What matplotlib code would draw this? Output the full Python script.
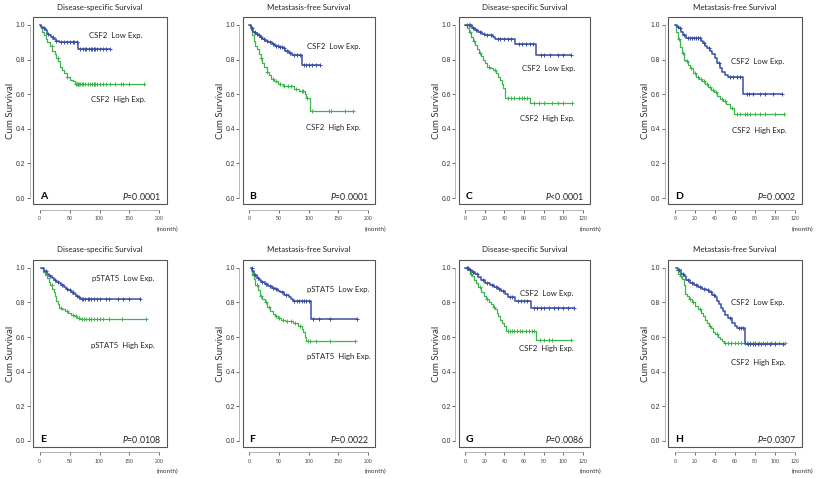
import numpy as np
import matplotlib.pyplot as plt
from matplotlib.patches import Rectangle

plt.rcParams['font.family'] = ['Lato', 'DejaVu Sans']
plt.rcParams['mathtext.fontset'] = 'custom'
plt.rcParams['mathtext.rm'] = 'Lato'
plt.rcParams['mathtext.it'] = 'Lato:italic'

# ---- data: step times / survival after each step / censored times ----
# A  CSF2, disease-specific
A_low_t = [0, 3, 6, 9, 12, 15, 19, 23, 28, 33, 64]
A_low_s = [1.0, 0.99, 0.98, 0.97, 0.95, 0.94, 0.93, 0.92, 0.91, 0.90, 0.86]
A_low_c = [8, 14, 22, 28, 35, 40, 45, 50, 55, 58, 62, 68, 72, 75, 78, 82, 85, 88, 90, 93, 96, 100, 105, 110, 117]
A_high_t = [0, 2, 4, 7, 10, 13, 17, 21, 25, 28, 31, 34, 37, 41, 45, 50, 55, 59]
A_high_s = [1.0, 0.98, 0.96, 0.94, 0.92, 0.90, 0.88, 0.85, 0.83, 0.81, 0.79, 0.76, 0.74, 0.72, 0.70, 0.685, 0.675, 0.66]
A_high_c = [20, 30, 45, 60, 62, 64, 66, 68, 70, 72, 75, 80, 84, 88, 90, 92, 95, 100, 105, 110, 118, 125, 135, 140, 150, 175]

# B  CSF2, metastasis-free
B_low_t = [0, 3, 6, 10, 14, 18, 22, 27, 32, 38, 43, 50, 56, 60, 66, 72, 88]
B_low_s = [1.0, 0.98, 0.96, 0.95, 0.94, 0.93, 0.92, 0.91, 0.90, 0.89, 0.88, 0.875, 0.865, 0.85, 0.84, 0.825, 0.77]
B_low_c = [5, 9, 12, 16, 20, 25, 30, 35, 40, 45, 48, 52, 55, 58, 63, 68, 75, 80, 86, 92, 96, 100, 105, 112, 119]
B_high_t = [0, 2, 4, 7, 10, 13, 16, 19, 22, 25, 29, 33, 37, 42, 49, 56, 62, 75, 84, 93, 96, 102]
B_high_s = [1.0, 0.97, 0.94, 0.91, 0.88, 0.86, 0.83, 0.81, 0.78, 0.76, 0.73, 0.71, 0.69, 0.675, 0.66, 0.65, 0.645, 0.63, 0.62, 0.60, 0.58, 0.505]
B_high_c = [20, 30, 40, 45, 52, 58, 65, 70, 78, 88, 90, 98, 105, 135, 137, 162, 175]

# C  CSF2, disease-specific (cohort 2)
C_low_t = [0, 7, 10, 13, 17, 20, 24, 28, 30, 51, 72]
C_low_s = [1.0, 0.985, 0.97, 0.96, 0.95, 0.945, 0.94, 0.93, 0.917, 0.89, 0.827]
C_low_c = [2, 4, 5, 8, 11, 15, 19, 22, 26, 33, 36, 40, 44, 47, 55, 58, 62, 66, 69, 77, 80, 86, 95, 100, 108]
C_high_t = [0, 2, 4, 6, 8, 10, 12, 14, 16, 18, 20, 22, 25, 28, 31, 34, 36, 38, 39, 41, 66]
C_high_s = [1.0, 0.98, 0.96, 0.93, 0.91, 0.885, 0.86, 0.84, 0.82, 0.80, 0.78, 0.76, 0.75, 0.74, 0.72, 0.70, 0.68, 0.66, 0.635, 0.58, 0.548]
C_high_c = [5, 9, 15, 24, 30, 44, 47, 50, 55, 58, 60, 63, 70, 75, 80, 88, 95, 100, 109]

# D  CSF2, metastasis-free (cohort 2)
D_low_t = [0, 2, 4, 6, 8, 11, 26, 28, 30, 32, 35, 37, 40, 42, 45, 47, 50, 53, 68]
D_low_s = [1.0, 0.99, 0.98, 0.96, 0.94, 0.925, 0.91, 0.895, 0.88, 0.865, 0.85, 0.835, 0.81, 0.78, 0.75, 0.73, 0.71, 0.70, 0.60]
D_low_c = [3, 5, 9, 13, 15, 17, 19, 21, 23, 25, 29, 34, 44, 55, 58, 62, 65, 72, 74, 78, 85, 90, 98, 107]
D_high_t = [0, 1, 3, 5, 7, 9, 11, 13, 15, 18, 21, 24, 27, 30, 33, 36, 39, 42, 45, 48, 51, 55, 59]
D_high_s = [1.0, 0.96, 0.92, 0.875, 0.84, 0.80, 0.79, 0.77, 0.75, 0.72, 0.70, 0.69, 0.675, 0.66, 0.64, 0.625, 0.61, 0.59, 0.575, 0.56, 0.545, 0.52, 0.487]
D_high_c = [4, 8, 12, 16, 20, 23, 26, 29, 32, 35, 38, 41, 47, 50, 57, 62, 65, 70, 72, 75, 80, 85, 90, 100, 109]

# E  pSTAT5, disease-specific
E_low_t = [3, 8, 12, 16, 20, 24, 28, 32, 36, 40, 44, 48, 52, 56, 60, 64, 68]
E_low_s = [1.0, 0.98, 0.965, 0.95, 0.94, 0.93, 0.92, 0.91, 0.90, 0.89, 0.88, 0.87, 0.86, 0.85, 0.84, 0.83, 0.82]
E_low_c = [10, 18, 25, 30, 38, 45, 50, 55, 62, 66, 70, 73, 76, 80, 83, 86, 90, 95, 100, 110, 115, 130, 140, 150, 167]
E_high_t = [3, 6, 9, 12, 15, 18, 21, 24, 26, 28, 30, 33, 37, 42, 47, 52, 58, 63, 68]
E_high_s = [1.0, 0.975, 0.96, 0.94, 0.92, 0.90, 0.88, 0.86, 0.84, 0.81, 0.79, 0.77, 0.76, 0.75, 0.74, 0.73, 0.72, 0.71, 0.705]
E_high_c = [20, 35, 45, 55, 60, 66, 70, 74, 78, 82, 86, 90, 95, 100, 105, 115, 138, 178]

# F  pSTAT5, metastasis-free
F_low_t = [2, 5, 8, 12, 16, 20, 26, 32, 38, 43, 48, 52, 58, 66, 70, 74, 104]
F_low_s = [1.0, 0.98, 0.96, 0.94, 0.93, 0.92, 0.905, 0.895, 0.885, 0.875, 0.865, 0.86, 0.845, 0.83, 0.82, 0.81, 0.705]
F_low_c = [4, 10, 14, 22, 28, 35, 40, 45, 55, 62, 76, 80, 84, 88, 92, 96, 100, 108, 118, 136, 182]
F_high_t = [2, 4, 7, 10, 14, 18, 22, 26, 30, 35, 39, 43, 48, 54, 60, 66, 74, 82, 88, 91, 94, 96]
F_high_s = [1.0, 0.96, 0.935, 0.90, 0.87, 0.84, 0.82, 0.80, 0.775, 0.75, 0.735, 0.72, 0.71, 0.70, 0.695, 0.69, 0.68, 0.665, 0.645, 0.63, 0.60, 0.575]
F_high_c = [12, 20, 28, 33, 45, 50, 56, 63, 70, 77, 85, 99, 103, 112, 136, 178]

# G  CSF2, disease-specific (cohort 3)
G_low_t = [0, 4, 7, 10, 13, 16, 20, 25, 29, 33, 37, 41, 44, 51, 67]
G_low_s = [1.0, 0.985, 0.975, 0.965, 0.945, 0.93, 0.915, 0.90, 0.89, 0.88, 0.865, 0.85, 0.83, 0.81, 0.765]
G_low_c = [2, 3, 5, 8, 12, 18, 22, 27, 31, 35, 39, 46, 48, 54, 57, 60, 63, 70, 73, 77, 80, 85, 90, 95, 100, 105, 111]
G_high_t = [0, 3, 5, 7, 9, 11, 13, 16, 19, 21, 24, 26, 28, 30, 32, 34, 36, 38, 40, 42, 72]
G_high_s = [1.0, 0.985, 0.965, 0.95, 0.93, 0.91, 0.89, 0.86, 0.84, 0.82, 0.80, 0.79, 0.775, 0.76, 0.74, 0.72, 0.70, 0.68, 0.665, 0.635, 0.585]
G_high_c = [2, 6, 15, 22, 29, 44, 46, 48, 50, 53, 56, 58, 62, 65, 68, 70, 76, 80, 85, 88, 108]

# H  CSF2, metastasis-free (cohort 3)
H_low_t = [1, 3, 6, 9, 11, 15, 19, 23, 27, 31, 34, 37, 40, 42, 44, 46, 48, 50, 53, 57, 60, 62, 70]
H_low_s = [1.0, 0.985, 0.965, 0.95, 0.93, 0.915, 0.90, 0.89, 0.88, 0.87, 0.86, 0.845, 0.83, 0.81, 0.79, 0.77, 0.75, 0.73, 0.71, 0.68, 0.665, 0.65, 0.56]
H_low_c = [4, 8, 13, 17, 21, 25, 29, 33, 36, 39, 55, 64, 66, 68, 73, 75, 78, 80, 83, 86, 90, 95, 100, 108]
H_high_t = [1, 3, 5, 7, 9, 10, 12, 14, 17, 20, 23, 26, 28, 30, 32, 34, 36, 38, 40, 43, 45, 47, 49]
H_high_s = [0.985, 0.965, 0.95, 0.935, 0.90, 0.85, 0.835, 0.82, 0.80, 0.78, 0.76, 0.74, 0.72, 0.70, 0.68, 0.665, 0.65, 0.63, 0.615, 0.60, 0.59, 0.575, 0.565]
H_high_c = [6, 15, 18, 25, 35, 42, 50, 53, 56, 60, 63, 66, 70, 72, 75, 78, 80, 84, 88, 92, 96, 100, 104, 110]

letters = ['A', 'B', 'C', 'D', 'E', 'F', 'G', 'H']
titles = ['Disease-specific Survival', 'Metastasis-free Survival'] * 4
pvals = ['=0.0001', '=0.0001', '<0.0001', '=0.0002', '=0.0108', '=0.0022', '=0.0086', '=0.0307']
markers = ['CSF2', 'CSF2', 'CSF2', 'CSF2', 'pSTAT5', 'pSTAT5', 'CSF2', 'CSF2']
xmaxs = [200, 200, 120, 120, 200, 200, 120, 120]

curves = [
    (A_low_t, A_low_s, A_low_c, A_high_t, A_high_s, A_high_c),
    (B_low_t, B_low_s, B_low_c, B_high_t, B_high_s, B_high_c),
    (C_low_t, C_low_s, C_low_c, C_high_t, C_high_s, C_high_c),
    (D_low_t, D_low_s, D_low_c, D_high_t, D_high_s, D_high_c),
    (E_low_t, E_low_s, E_low_c, E_high_t, E_high_s, E_high_c),
    (F_low_t, F_low_s, F_low_c, F_high_t, F_high_s, F_high_c),
    (G_low_t, G_low_s, G_low_c, G_high_t, G_high_s, G_high_c),
    (H_low_t, H_low_s, H_low_c, H_high_t, H_high_s, H_high_c),
]

# label positions (data coords): low, high
low_pos = [(83, 0.94), (98, 0.875), (58, 0.75), (56, 0.79), (87, 0.94), (98, 0.875), (56, 0.853), (56, 0.80)]
high_pos = [(86, 0.57), (96, 0.41), (56, 0.46), (57, 0.39), (86, 0.55), (97, 0.49), (55, 0.535), (56, 0.45)]

BLUE = '#3a4ea5'
GREEN = '#3cb54b'
AXC = '#555555'


def km(ax, t, s, cens, color, lw):
    t = np.array(t, dtype=float)
    s = np.array(s, dtype=float)
    t_end = max(t[-1], max(cens))
    ax.step(np.append(t, t_end), np.append(s, s[-1]), where='post', color=color, lw=lw)
    idx = np.searchsorted(t, cens, side='right') - 1
    ax.plot(cens, s[idx], ls='none', marker='+', ms=3, mew=0.7, color=color)


fig = plt.figure(figsize=(8.25, 4.78), dpi=100)
lefts = [0.040, 0.2945, 0.556, 0.810]
widths = [0.162, 0.160, 0.159, 0.162]
bottoms = [0.573, 0.065]
height = 0.391

for i in range(8):
    r, c = divmod(i, 4)
    ax = fig.add_axes([lefts[c], bottoms[r], widths[c], height])
    lt, ls_, lc, ht, hs, hc = curves[i]
    km(ax, ht, hs, hc, GREEN, 0.9)
    km(ax, lt, ls_, lc, BLUE, 1.1)

    xmax = xmaxs[i]
    if xmax == 200:
        ax.set_xlim(-11, 212)
        ax.set_xticks([0, 50, 100, 150, 200])
    else:
        ax.set_xlim(-6.5, 127)
        ax.set_xticks([0, 20, 40, 60, 80, 100, 120])
    ax.set_ylim(-0.035, 1.045)
    ax.set_yticks([0.0, 0.2, 0.4, 0.6, 0.8, 1.0])
    ax.set_yticklabels(['0.0', '0.2', '0.4', '0.6', '0.8', '1.0'])

    for sp in ['top', 'right']:
        ax.spines[sp].set_visible(False)
    ax.spines['left'].set_position(('outward', 2.5))
    ax.spines['left'].set_bounds(0, 1)
    ax.spines['bottom'].set_position(('outward', 4))
    ax.spines['bottom'].set_bounds(0, xmax)
    for sp in ['left', 'bottom']:
        ax.spines[sp].set_color('#999999')
        ax.spines[sp].set_linewidth(0.5)
    ax.add_patch(Rectangle((0, 0), 1, 1, transform=ax.transAxes, fill=False,
                           lw=0.8, ec=AXC, clip_on=False))
    ax.tick_params(axis='y', length=2.2, width=0.6, color=AXC, labelsize=4.9,
                   pad=1, labelcolor='#333333')
    ax.tick_params(axis='x', length=2.5, width=0.6, color=AXC, labelsize=3.8,
                   pad=2, labelcolor='#444444')
    for lab in ax.get_xticklabels() + ax.get_yticklabels():
        lab.set_fontfamily(['Liberation Sans', 'DejaVu Sans'])

    ax.set_title(titles[i], fontsize=5.7, pad=5.5, color='#222222')
    ax.set_ylabel('Cum Survival', fontsize=7, labelpad=0.5, color='#333333')
    ax.annotate('(month)', xy=(1, 0), xycoords='axes fraction', xytext=(-7, -16),
                textcoords='offset points', ha='left', va='top', fontsize=4.6,
                color='#333333')

    ax.text(low_pos[i][0], low_pos[i][1], markers[i] + '  Low Exp.', fontsize=5.6,
            va='center', ha='left', color='#222222')
    ax.text(high_pos[i][0], high_pos[i][1], markers[i] + '  High Exp.', fontsize=5.6,
            va='center', ha='left', color='#222222')
    ax.text(0.05, 0.04, letters[i], transform=ax.transAxes, fontsize=7.5,
            fontweight='bold', va='center', ha='left')
    ax.text(0.955, 0.04, r'$\mathit{P}$' + pvals[i], transform=ax.transAxes,
            fontsize=6.3, va='center', ha='right', color='#222222')

fig.savefig('out.png', dpi=100)
